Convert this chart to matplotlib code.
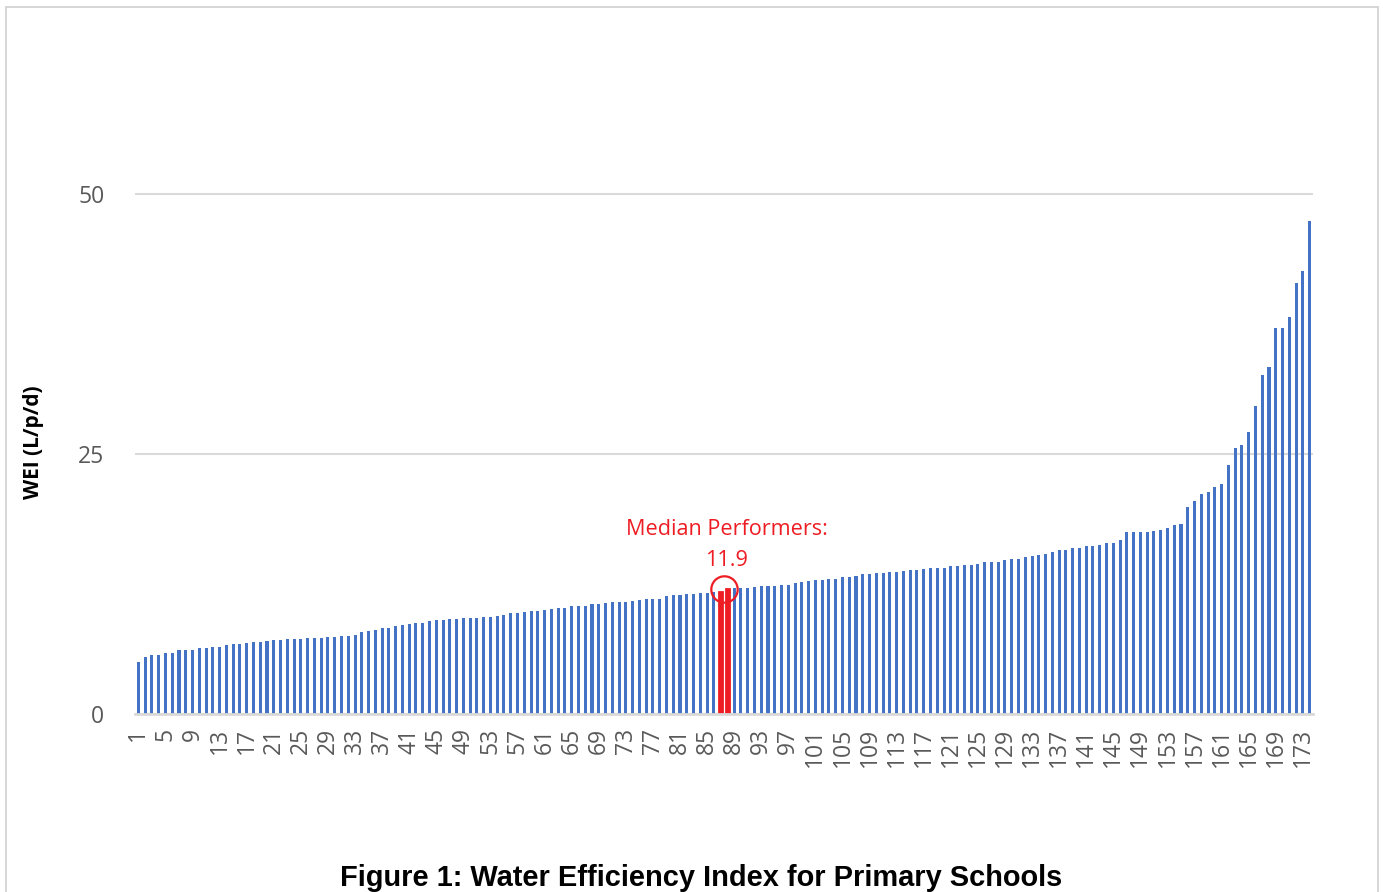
import matplotlib
matplotlib.use("Agg")
import matplotlib.pyplot as plt
from matplotlib.patches import Rectangle
import numpy as np

# ---- data -------------------------------------------------------------
schools = list(range(1, 175))
wei = [
    4.97, 5.45, 5.64, 5.64, 5.83, 5.90, 6.15, 6.19, 6.19, 6.31,
    6.31, 6.41, 6.47, 6.60, 6.70, 6.73, 6.83, 6.92, 6.95, 7.02,
    7.08, 7.08, 7.18, 7.18, 7.24, 7.27, 7.27, 7.31, 7.37, 7.40,
    7.47, 7.47, 7.60, 7.85, 8.01, 8.10, 8.24, 8.24, 8.46, 8.59,
    8.69, 8.72, 8.72, 8.92, 9.00, 9.04, 9.17, 9.17, 9.20, 9.20,
    9.23, 9.29, 9.33, 9.42, 9.55, 9.68, 9.71, 9.84, 9.90, 9.94,
    10.03, 10.06, 10.19, 10.19, 10.35, 10.38, 10.42, 10.58, 10.58, 10.64,
    10.77, 10.77, 10.77, 10.87, 10.99, 11.03, 11.06, 11.06, 11.31, 11.44,
    11.47, 11.54, 11.57, 11.63, 11.67, 11.70, 11.76, 12.06, 12.08, 12.10,
    12.15, 12.21, 12.28, 12.31, 12.34, 12.37, 12.40, 12.60, 12.69, 12.79,
    12.88, 12.92, 12.95, 12.98, 13.17, 13.17, 13.30, 13.43, 13.46, 13.53,
    13.56, 13.62, 13.69, 13.75, 13.81, 13.81, 13.97, 14.04, 14.04, 14.07,
    14.23, 14.23, 14.30, 14.33, 14.42, 14.62, 14.65, 14.65, 14.78, 14.87,
    14.94, 15.13, 15.22, 15.29, 15.38, 15.54, 15.80, 15.80, 15.93, 16.00,
    16.12, 16.12, 16.22, 16.41, 16.41, 16.70, 17.47, 17.47, 17.47, 17.50,
    17.56, 17.66, 17.85, 18.14, 18.30, 19.90, 20.48, 21.18, 21.31, 21.80,
    22.08, 23.91, 25.54, 25.90, 27.09, 29.65, 32.60, 33.40, 37.08, 37.08,
    38.17, 41.41, 42.60, 47.43,
]
median_schools = [87, 88]
y_ticks = [0, 25, 50]
x_ticks = list(range(1, 175, 4))
y_label = "WEI (L/p/d)"
annotation = "Median Performers:\n11.9"
title = "Figure 1: Water Efficiency Index for Primary Schools"

# ---- styling ----------------------------------------------------------
BLUE = "#4472C4"
RED = "#EE1D23"
GRID = "#D9D9D9"
TICK = "#595959"
FONT = "Open Sans"

W, H = 1383, 892
fig = plt.figure(figsize=(W / 100, H / 100), dpi=100)

# chart-area frame
fig.patches.append(Rectangle((6 / W, -0.05), (1378 - 6) / W, 1.05 - 7 / H,
                             transform=fig.transFigure, fill=False,
                             edgecolor="#D0D0D0", linewidth=1.2))

ax = fig.add_axes([135 / W, 1 - 714 / H, (1313 - 135) / W, (714 - 90) / H])

colors = [RED if s in median_schools else BLUE for s in schools]
edges = [RED if s in median_schools else "none" for s in schools]
lws = [2.0 if s in median_schools else 0 for s in schools]
ax.bar(schools, wei, width=0.45, color=colors, edgecolor=edges,
       linewidth=lws, zorder=3)

ax.set_xlim(0.5, len(schools) + 0.5)
ax.set_ylim(0, 60)
ax.set_yticks(y_ticks)
ax.set_yticklabels([str(t) for t in y_ticks], fontsize=16.5, color=TICK,
                   family=FONT)
ax.set_xticks(x_ticks)
ax.set_xticklabels([str(t) for t in x_ticks], rotation=90, fontsize=16.5,
                   color=TICK, family=FONT, va="top", ha="center")
ax.tick_params(axis="both", length=0)
ax.tick_params(axis="y", pad=22)
ax.tick_params(axis="x", pad=10)

ax.grid(axis="y", color=GRID, linewidth=1.5, zorder=0)
for sp in ["top", "right", "left"]:
    ax.spines[sp].set_visible(False)
ax.spines["bottom"].set_color(GRID)
ax.spines["bottom"].set_linewidth(2)
ax.spines["bottom"].set_zorder(4)

ax.set_ylabel(y_label, fontsize=15, fontweight="bold", family=FONT,
              color="black")
ax.yaxis.set_label_coords((44 - 135) / 1178, (714 - 442) / 624)

# median highlight
mx = np.mean(median_schools)
my = max(wei[s - 1] for s in median_schools)
ax.plot([mx], [my], marker="o", markersize=19, markerfacecolor="none",
        markeredgecolor=RED, markeredgewidth=1.6, zorder=5)
ax.annotate(annotation, xy=(mx, my), xytext=(2, 13), textcoords="offset points",
            ha="center", va="bottom", color=RED, fontsize=15.6, family=FONT,
            linespacing=1.6)

fig.text(701 / W, 1 - 878 / H, title, ha="center", va="center",
         fontsize=20.9, fontweight="bold", family="Liberation Sans")

fig.savefig("out.png", dpi=100)
